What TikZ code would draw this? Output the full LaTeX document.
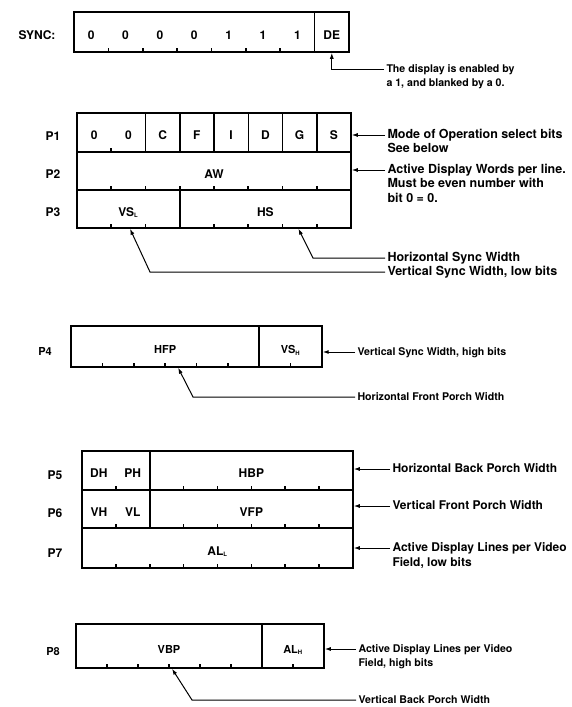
\documentclass[tikz,border=0pt]{standalone}
\usepackage{fontspec}
\setmainfont{TeX Gyre Heros}
\usetikzlibrary{arrows.meta,positioning}

\newcommand{\lowsub}[1]{\textsubscript{\fontsize{6}{6}\selectfont #1}}

\begin{document}
\begin{tikzpicture}[x=1pt, y=-1pt, line width=1pt,
    font=\bfseries\fontsize{12}{14}\selectfont,
    field/.style 2 args={draw, rectangle, line width=1.5pt, inner sep=0pt,
        minimum width=#1, minimum height=#2, text height=14pt, text depth=0pt},
    smallfont/.style={font=\bfseries\fontsize{11}{13}\selectfont},
    tick/.style={line width=1.6pt},
    note/.style={anchor=west, inner sep=2pt, text height=8pt, text depth=1.5pt},
    bignote/.style={note, font=\bfseries\fontsize{12.5}{14}\selectfont},
    smallnote/.style={note, font=\bfseries\fontsize{10.6}{12}\selectfont},
    arr/.style={-{Latex[length=6pt, width=4pt]}}]

    \useasboundingbox (0,0) rectangle (572,707);

    % SYNC
    \node at (37,35) (sync) {SYNC:};
    \node[field={240.6pt}{40pt}] at (194.3,32) (syncbits) {};
    \node[field={34.4pt}{40pt}] at (331.8,32) (de) {DE};
    \foreach \v [count=\i from 0] in {0,0,0,0,1,1,1}
        \node at (91.2+34.375*\i, 35) (sb\i) {\v};
    \foreach \i in {1,...,6}
        \draw[tick] (74+34.375*\i,52) -- ++(0,-4);

    \node[smallnote] at (384,69) (nde) {The display is enabled by};
    \node[smallnote, below=0pt of nde.south west, anchor=north west] (nde2) {a 1, and blanked by a 0.};
    \draw[arr] (nde.west) -| (de.south);

    % P1 - P3
    \node at (53,136) (p1) {P1};
    \node at (53,174) (p2) {P2};
    \node at (53,212) (p3) {P3};

    \node[field={68.5pt}{39pt}] at (111.25,132.5) (p1z) {};
    \foreach \i in {0,1}
        \node at (94.1+34.25*\i, 135.5) (p1b\i) {0};
    \draw[tick] (111.25,152) -- ++(0,-4);
    \foreach \t [count=\k from 2] in {C,F,I,D,G,S}
        \node[field={34.25pt}{39pt}] at (94.125+34.25*\k, 132.5) (p1\t) {\t};

    \node[field={274pt}{38pt}] at (214,171) (aw) {AW};
    \foreach \i in {1,...,7}
        \draw[tick] (77+34.25*\i,190) -- ++(0,-4);

    \node[field={102.75pt}{38pt}] at (128.375,209) (vsl) {VS\lowsub{L}};
    \node[field={171.25pt}{38pt}] at (265.375,209) (hs) {HS};
    \foreach \i in {1,2,4,5,6,7}
        \draw[tick] (77+34.25*\i,228) -- ++(0,-4);

    \node[bignote] at (385,135) (nmode) {Mode of Operation select bits};
    \node[bignote, below=0pt of nmode.south west, anchor=north west] (nmode2) {See below};
    \draw[arr] (nmode.west) -- (p1S.east |- nmode.west);

    \node[bignote] at (385,170) (naw) {Active Display Words per line.};
    \node[bignote, below=0pt of naw.south west, anchor=north west] (naw2) {Must be even number with};
    \node[bignote, below=0pt of naw2.south west, anchor=north west] (naw3) {bit 0 = 0.};
    \draw[arr] (naw.west) -- (aw.east |- naw.west);

    \node[bignote] at (385,258) (nhs) {Horizontal Sync Width};
    \node[bignote] at (385,272) (nvsl) {Vertical Sync Width, low bits};
    \coordinate (hsbend) at (313,258);
    \coordinate (vslbend) at (150,272);
    \draw[arr] (nhs.west) -- (hsbend) -- ([xshift=33pt]hs.south);
    \draw[arr] (nvsl.west) -- (vslbend) -- ([xshift=1.6pt]vsl.south);

    % P4
    \node[smallfont] at (45,351) (p4) {P4};
    \node[field={188.25pt}{41pt}, smallfont] at (165.1,346.5) (hfp) {HFP};
    \node[field={62.75pt}{41pt}, smallfont] at (290.6,346.5) (vsh) {VS\lowsub{H}};
    \foreach \i in {1,...,5,7}
        \draw[tick] (71+31.375*\i,367) -- ++(0,-4);

    \node[smallnote] at (355,352) (nvsh) {Vertical Sync Width, high bits};
    \draw[arr] (nvsh.west) -- (vsh.east |- nvsh.west);
    \node[smallnote] at (355,397) (nhfp) {Horizontal Front Porch Width};
    \coordinate (hfpbend) at (193,397);
    \draw[arr] (nhfp.west) -- (hfpbend) -- ([xshift=13pt]hfp.south);

    % P5 - P7
    \node at (55,475) (p5) {P5};
    \node at (55,513) (p6) {P6};
    \node at (55,553) (p7) {P7};

    \node[field={67.75pt}{39pt}] at (115.875,470.5) (dhph) {};
    \node at (98.9,473.5) (dh) {DH};
    \node at (132.8,473.5) (ph) {PH};
    \node[field={203.25pt}{39pt}] at (251.375,470.5) (hbp) {HBP};
    \foreach \i in {1,3,4,5,6,7}
        \draw[tick] (82+33.875*\i,490) -- ++(0,-4);

    \node[field={67.75pt}{38pt}] at (115.875,509) (vhvl) {};
    \node at (98.9,512) (vh) {VH};
    \node at (132.8,512) (vl) {VL};
    \node[field={203.25pt}{38pt}] at (251.375,509) (vfp) {VFP};
    \foreach \i in {1,3,4,5,6,7}
        \draw[tick] (82+33.875*\i,528) -- ++(0,-4);

    \node[field={271pt}{40pt}] at (217.5,548) (all) {AL\lowsub{L}};
    \foreach \i in {1,...,7}
        \draw[tick] (82+33.875*\i,568) -- ++(0,-4);

    \node[note] at (390,469) (nhbp) {Horizontal Back Porch Width};
    \draw[arr] (nhbp.west) -- (hbp.east |- nhbp.west);
    \node[note] at (390,506) (nvfp) {Vertical Front Porch Width};
    \draw[arr] (nvfp.west) -- (vfp.east |- nvfp.west);
    \node[note] at (390,548) (nall) {Active Display Lines per Video};
    \node[note, below=1pt of nall.south west, anchor=north west] (nall2) {Field, low bits};
    \draw[arr] (nall.west) -- (all.east |- nall.west);

    % P8
    \node[smallfont] at (53,652) (p8) {P8};
    \node[field={186pt}{44pt}, smallfont] at (169,646) (vbp) {VBP};
    \node[field={62pt}{44pt}, smallfont] at (293,646) (alh) {AL\lowsub{H}};
    \foreach \i in {1,...,5,7}
        \draw[tick] (76+31*\i,668) -- ++(0,-4);

    \node[smallnote] at (356,649) (nalh) {Active Display Lines per Video};
    \node[smallnote, below=0pt of nalh.south west, anchor=north west] (nalh2) {Field, high bits};
    \draw[arr] (nalh.west) -- (alh.east |- nalh.west);
    \node[smallnote] at (356,700) (nvbp) {Vertical Back Porch Width};
    \coordinate (vbpbend) at (192,700);
    \draw[arr] (nvbp.west) -- (vbpbend) -- ([xshift=3pt]vbp.south);

\end{tikzpicture}
\end{document}
